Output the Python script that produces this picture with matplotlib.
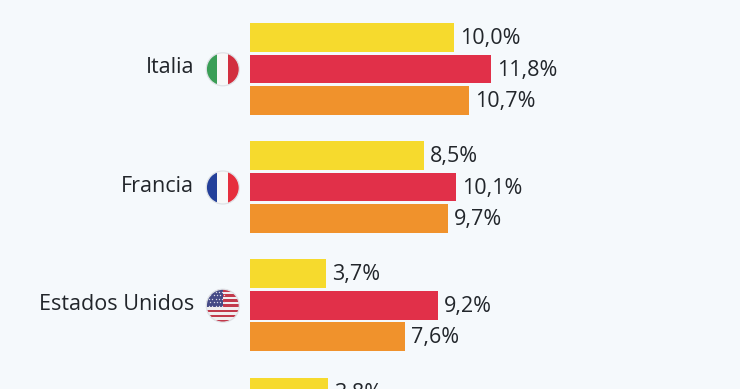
import matplotlib
matplotlib.use('Agg')
import matplotlib.pyplot as plt
from matplotlib.patches import Circle, Rectangle

plt.rcParams['font.family'] = ['Open Sans', 'DejaVu Sans']

# Data
countries = ['Italia', 'Francia', 'Estados Unidos', '']
yellow_values = [10.0, 8.5, 3.7, 3.8]
red_values = [11.8, 10.1, 9.2, None]
orange_values = [10.7, 9.7, 7.6, None]
series_colors = ['#f6da2d', '#e13049', '#f0922c']

BG = '#f5f9fc'
TEXT = '#22262b'
W, H = 740, 389
X0 = 250
PX_PER_UNIT = 20.43
GROUP_STEP = 118.2
BAR_STEP = 31.5
BAR_H = 28.6
FIRST_CENTER = 37.3

fig = plt.figure(figsize=(W / 100, H / 100), dpi=100, facecolor=BG)

# axes fill the figure, y axis runs down in pixels, x axis in percent
ax = fig.add_axes([0, 0, 1, 1])
ax.set_xlim(-X0 / PX_PER_UNIT, (W - X0) / PX_PER_UNIT)
ax.set_ylim(H, 0)
ax.axis('off')

# overlay in pixel coords for the round flags
fx = fig.add_axes([0, 0, 1, 1])
fx.set_xlim(0, W)
fx.set_ylim(H, 0)
fx.axis('off')
fx.patch.set_alpha(0)


def round_flag(cx, cy, kind, r=16.5):
    clip = Circle((cx, cy), r, transform=fx.transData)
    parts = []
    if kind == 'it':
        parts.append(Rectangle((cx - r, cy - r), 2 * r / 3, 2 * r, color='#3a9e56'))
        parts.append(Rectangle((cx - r / 3, cy - r), 2 * r / 3, 2 * r, color='#f8f8f8'))
        parts.append(Rectangle((cx + r / 3, cy - r), 2 * r / 3, 2 * r, color='#d22f3f'))
    elif kind == 'fr':
        parts.append(Rectangle((cx - r, cy - r), 2 * r / 3, 2 * r, color='#24409a'))
        parts.append(Rectangle((cx - r / 3, cy - r), 2 * r / 3, 2 * r, color='#f8f8f8'))
        parts.append(Rectangle((cx + r / 3, cy - r), 2 * r / 3, 2 * r, color='#e62e3d'))
    else:
        parts.append(Rectangle((cx - r, cy - r), 2 * r, 2 * r, color='#f0eef0'))
        for i in range(0, 13, 2):
            parts.append(Rectangle((cx - r, cy - r + i * 2 * r / 13), 2 * r, 2 * r / 13,
                                   color='#c23a4c'))
        parts.append(Rectangle((cx - r, cy - r), r * 1.02, r * 1.08, color='#454a86'))
    for p in parts:
        p.set_linewidth(0)
        fx.add_patch(p)
        p.set_clip_path(clip)
    if kind == 'us':
        for row in range(5):
            for col in range(5):
                dot, = fx.plot(cx - r + 2.6 + col * 3.3 + (row % 2) * 1.4,
                               cy - r + 2.5 + row * 3.5, 'o', ms=1.0, color='#d8d9e6', mew=0)
                dot.set_clip_path(clip)
    fx.add_patch(Circle((cx, cy), r, fill=False, ec='#dfe2e6', lw=0.9))


series = [yellow_values, red_values, orange_values]
flags = ['it', 'fr', 'us']

for s, (values, color) in enumerate(zip(series, series_colors)):
    for g, value in enumerate(values):
        if value is None:
            continue
        y = FIRST_CENTER + g * GROUP_STEP + s * BAR_STEP
        ax.barh(y, value, height=BAR_H, color=color, linewidth=0)
        ax.annotate(f'{value:.1f}%'.replace('.', ','), (value, y), xytext=(6, -1.2),
                    textcoords='offset pixels', va='center', ha='left',
                    fontsize=15.5, color=TEXT, annotation_clip=False)

for g, (name, flag) in enumerate(zip(countries[:3], flags)):
    y = FIRST_CENTER + g * GROUP_STEP + BAR_STEP
    fx.text(194, y - 1, name, ha='right', va='center', fontsize=15.5, color=TEXT)
    round_flag(222.8, y + 0.5, flag)

fig.savefig('out.png', dpi=100, facecolor=BG)
